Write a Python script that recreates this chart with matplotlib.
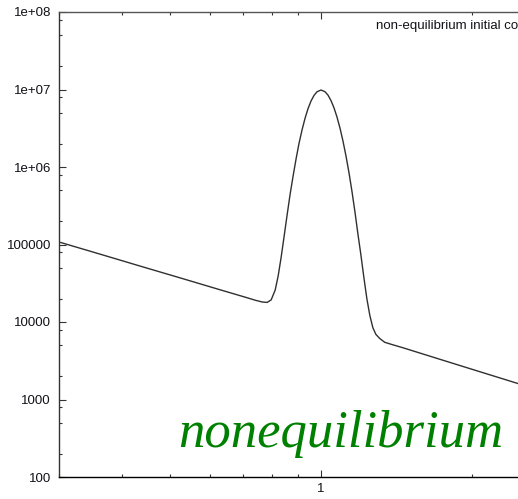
import numpy as np
import matplotlib
matplotlib.use("Agg")
import matplotlib.pyplot as plt
from matplotlib.ticker import FixedLocator, NullFormatter

# ── DATA ─────────────────────────────────────────────────────────────────────
x_vals = [0.302, 0.3629, 0.4358, 0.5237, 0.6291, 0.7058, 0.7387, 0.763,
          0.7807, 0.7951, 0.8099, 0.821, 0.8324, 0.8439, 0.8556, 0.8674,
          0.8794, 0.8917, 0.904, 0.9167, 0.9293, 0.9421, 0.9552, 0.9684,
          0.9818, 1.0, 1.0185, 1.0326, 1.0469, 1.0614, 1.0761, 1.091,
          1.1061, 1.1215, 1.137, 1.1527, 1.1687, 1.1849, 1.2013, 1.218,
          1.2349, 1.252, 1.2693, 1.2869, 1.3107, 1.341, 1.3846, 1.4567,
          1.7261, 2.0736, 2.4695]
y_vals = [1.061e5, 7.47e4, 5.25e4, 3.70e4, 2.60e4, 2.09e4, 1.911e4, 1.812e4,
          1.790e4, 1.929e4, 2.58e4, 3.90e4, 6.82e4, 1.272e5, 2.40e5, 4.42e5,
          7.61e5, 1.276e6, 2.03e6, 3.03e6, 4.26e6, 5.67e6, 7.11e6, 8.39e6,
          9.34e6, 9.85e6, 9.37e6, 8.47e6, 7.21e6, 5.82e6, 4.43e6, 3.20e6,
          2.18e6, 1.40e6, 8.54e5, 4.92e5, 2.67e5, 1.378e5, 7.39e4, 3.76e4,
          2.00e4, 1.213e4, 8.47e3, 6.94e3, 6.11e3, 5.47e3, 5.13e3, 4.66e3,
          3.31e3, 2.29e3, 1.614e3]

y_major = [1e2, 1e3, 1e4, 1e5, 1e6, 1e7, 1e8]
y_labels = ["100", "1000", "10000", "100000", "1e+06", "1e+07", "1e+08"]
y_minor = [m * 10.0 ** k for k in range(2, 8) for m in (2, 5, 8)]
x_major = [1]
x_labels = ["1"]
x_minor = [0.3, 0.4, 0.5, 0.6, 0.7, 0.8, 0.9, 2, 3]

key_text = "non-equilibrium initial conditions"
big_text = "nonequilibrium"

plt.rcParams["font.family"] = ["Liberation Sans", "DejaVu Sans"]

W, H = 518, 499
fig = plt.figure(figsize=(W / 100, H / 100), dpi=100)
ax = fig.add_axes([59.3 / W, 22 / H, 500.5 / W, 465 / H])

ax.plot(x_vals, y_vals, color="#303030", linewidth=1.0)

ax.set_xscale("log")
ax.set_yscale("log")
ax.set_xlim(0.3, 3)
ax.set_ylim(100, 1e8)

ax.yaxis.set_major_locator(FixedLocator(y_major))
ax.set_yticklabels(y_labels)
ax.yaxis.set_minor_locator(FixedLocator(y_minor))
ax.yaxis.set_minor_formatter(NullFormatter())
ax.xaxis.set_major_locator(FixedLocator(x_major))
ax.set_xticklabels(x_labels)
ax.xaxis.set_minor_locator(FixedLocator(x_minor))
ax.xaxis.set_minor_formatter(NullFormatter())

ax.tick_params(which="both", direction="in", top=True, right=True,
               labelsize=9.5, labelcolor="#111118", color="#333333", width=0.8)
ax.tick_params(which="major", length=5)
ax.tick_params(which="minor", length=2.3)
ax.tick_params(axis="y", pad=6)
ax.tick_params(axis="x", pad=4)

ax.spines["top"].set_color("#555555")
ax.spines["top"].set_linewidth(1.2)
ax.spines["left"].set_color("#333333")
ax.spines["bottom"].set_color("black")
for s in ax.spines.values():
    s.set_linewidth(1.0)

fig.text(376 / W, 1 - 26 / H, key_text, ha="left", va="center",
         fontsize=9.5, color="#111118")
fig.text(178 / W, 1 - 446.7 / H, big_text, ha="left", va="baseline",
         fontsize=38, color="#008000", style="italic",
         family=["Liberation Serif", "DejaVu Serif"])

fig.savefig("out.png", dpi=100)
